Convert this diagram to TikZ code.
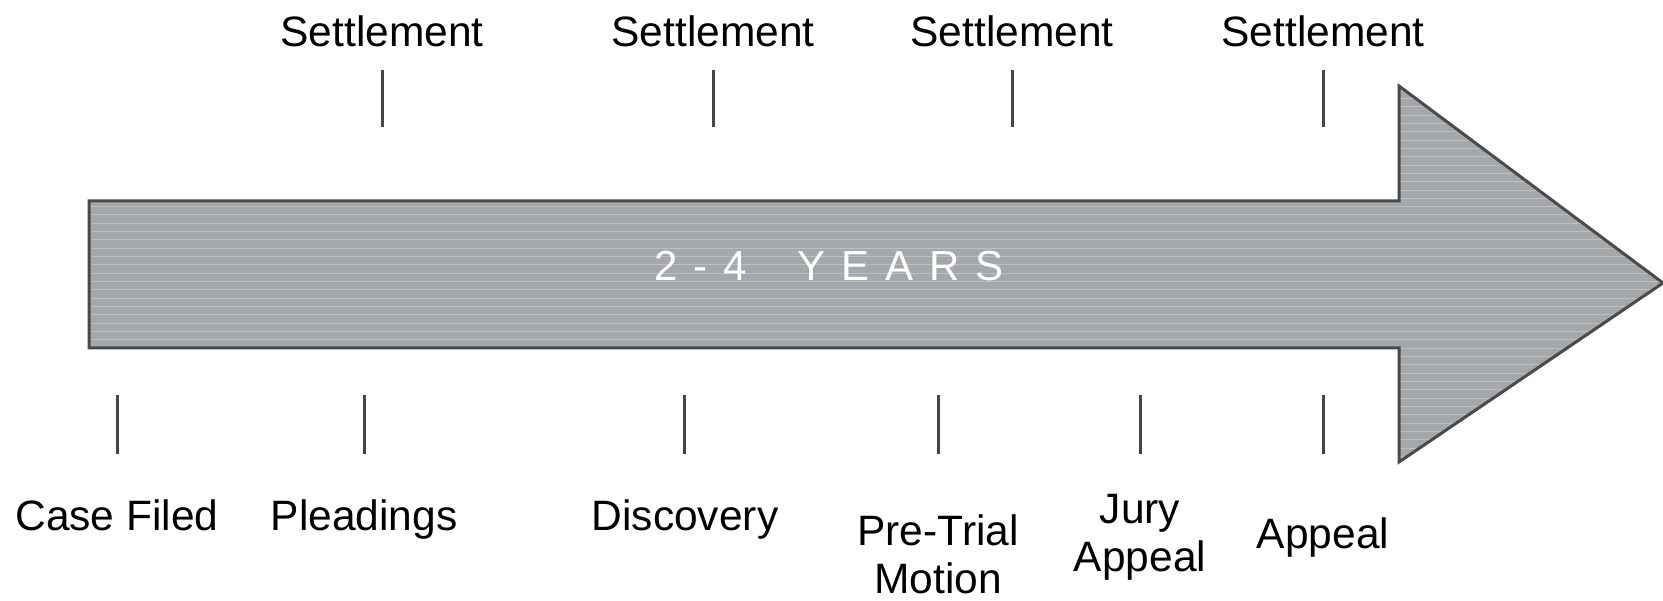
\documentclass[tikz,border=0pt]{standalone}
\usepackage{fontspec}
\setmainfont{Liberation Sans}
\definecolor{arrowfill}{HTML}{A5A8AA}
\definecolor{stripe}{HTML}{BCBFC0}
\definecolor{edge}{HTML}{4A4A4A}
\definecolor{tick}{HTML}{454545}
\tikzset{
  lbl/.style={font=\fontsize{42.5}{48}\selectfont, inner sep=0pt, text=black},
  tickline/.style={draw=tick, line width=3pt},
  arrowedge/.style={draw=edge, line width=3pt, line join=miter},
}
\begin{document}
\begin{tikzpicture}[x=1pt,y=-1pt]
\useasboundingbox (0,0) rectangle (1663,601);
% arrow
\path[fill=arrowfill] (89,201) -- (1399,201) -- (1399,86) -- (1663,283) -- (1399,462) -- (1399,348) -- (89,348) -- cycle;
\begin{scope}
\clip (89,201) -- (1399,201) -- (1399,86) -- (1663,283) -- (1399,462) -- (1399,348) -- (89,348) -- cycle;
\foreach \yy in {0,...,46}{
  \draw[stripe, line width=0.9pt] (80,{90+\yy*8.33}) -- (1670,{90+\yy*8.33});
}
\end{scope}
\draw[arrowedge] (89,201) -- (1399,201) -- (1399,86) -- (1663,283) -- (1399,462) -- (1399,348) -- (89,348) -- cycle;
\node[inner sep=0pt, text=white, font=\fontsize{42}{48}\selectfont\addfontfeature{LetterSpace=38}] (years) at (829,266) {2-4\hspace*{50pt}YEARS};
% top settlements
\foreach \n/\xx in {s1/382, s2/713, s3/1012, s4/1323}{
  \node[lbl, anchor=base] (\n) at (\xx,47) {Settlement};
  \draw[tickline] (\xx,70) -- (\xx,127);
}
% bottom ticks
\foreach \xx in {117,364,684,938,1140,1323}{
  \draw[tickline] (\xx,395) -- (\xx,454);
}
\node[lbl, anchor=base] (casefiled) at (117,530) {Case Filed};
\node[lbl, anchor=base] (pleadings) at (364,530) {Pleadings};
\node[lbl, anchor=base] (discovery) at (685,530) {Discovery};
\node[lbl, anchor=north, align=center] (pretrial) at (938,515) {Pre-Trial\\Motion};
\node[lbl, anchor=north, align=center] (jury) at (1140,494) {Jury\\Appeal};
\node[lbl, anchor=base] (appeal) at (1323,548) {Appeal};
\end{tikzpicture}
\end{document}
